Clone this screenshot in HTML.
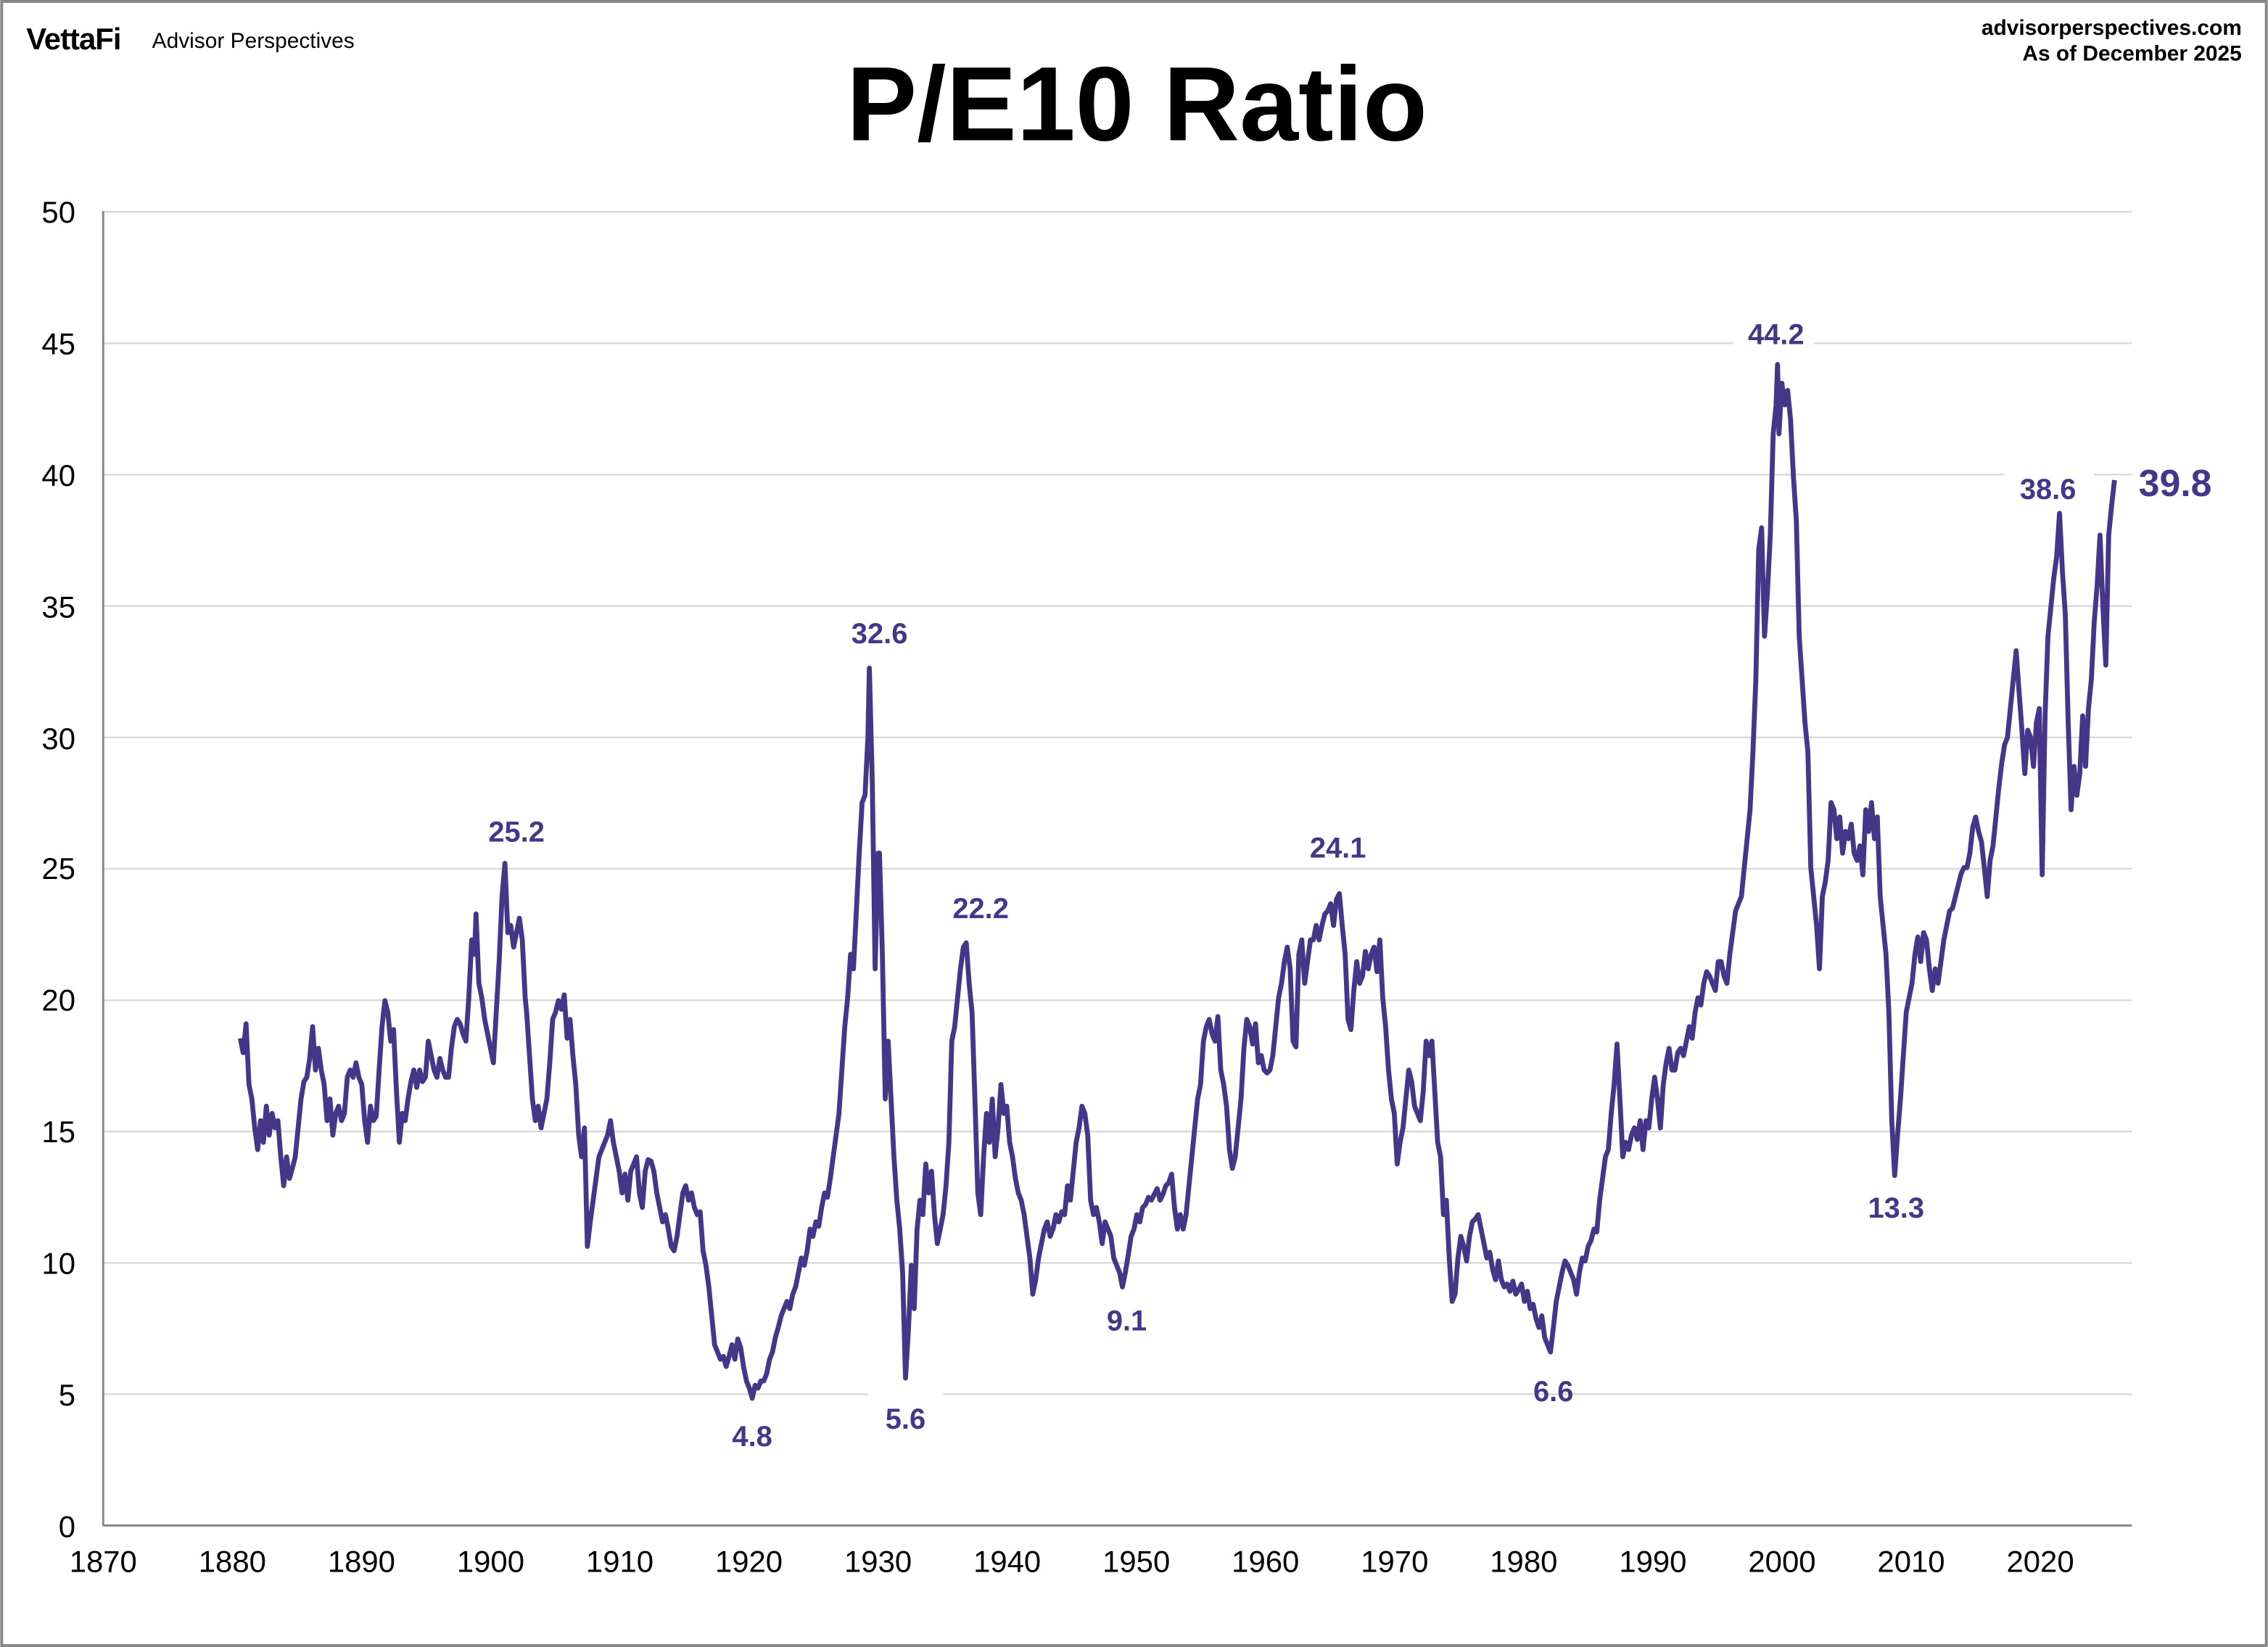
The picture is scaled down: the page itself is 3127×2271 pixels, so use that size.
<!DOCTYPE html>
<html><head><meta charset="utf-8"><style>
html,body{margin:0;padding:0;background:#fff;}
svg{display:block;}
</style></head><body>
<svg width="3127" height="2271" viewBox="0 0 1568 1139" xmlns="http://www.w3.org/2000/svg" font-family="Liberation Sans, Arial, sans-serif">
<rect x="0" y="0" width="1568" height="1139" fill="#fff"/>
<rect x="1" y="1" width="1566" height="1137" fill="none" stroke="#888" stroke-width="2"/>
<text x="18" y="34" font-size="21" font-weight="bold" fill="#000" letter-spacing="-0.5">VettaFi</text>
<text x="105" y="33" font-size="15" fill="#000">Advisor Perspectives</text>
<text x="1550" y="24" font-size="15" font-weight="bold" text-anchor="end" fill="#000">advisorperspectives.com</text>
<text x="1550" y="42" font-size="15" font-weight="bold" text-anchor="end" fill="#000">As of December 2025</text>
<text x="786" y="97" font-size="73" font-weight="bold" text-anchor="middle" fill="#000">P/E10 Ratio</text>
<g stroke="#d9d9d9" stroke-width="1.2">
<line x1="71" y1="146.5" x2="1474" y2="146.5"/><line x1="71" y1="237.4" x2="1474" y2="237.4"/>
<line x1="71" y1="328.2" x2="1474" y2="328.2"/><line x1="71" y1="419.1" x2="1474" y2="419.1"/>
<line x1="71" y1="510" x2="1474" y2="510"/><line x1="71" y1="600.8" x2="1474" y2="600.8"/>
<line x1="71" y1="691.7" x2="1474" y2="691.7"/><line x1="71" y1="782.5" x2="1474" y2="782.5"/>
<line x1="71" y1="873.4" x2="1474" y2="873.4"/><line x1="71" y1="964.2" x2="1474" y2="964.2"/>
</g>
<g stroke="#888" stroke-width="1.5"><line x1="71.2" y1="146" x2="71.2" y2="1055"/><line x1="71" y1="1055" x2="1474" y2="1055"/></g>
<g font-size="21" fill="#000" text-anchor="end">
<text x="52" y="154">50</text><text x="52" y="245">45</text><text x="52" y="336">40</text><text x="52" y="427">35</text>
<text x="52" y="518">30</text><text x="52" y="608">25</text><text x="52" y="699">20</text><text x="52" y="790">15</text>
<text x="52" y="881">10</text><text x="52" y="972">5</text><text x="52" y="1063">0</text>
</g>
<g font-size="21" fill="#000" text-anchor="middle">
<text x="71.2" y="1087">1870</text><text x="160.5" y="1087">1880</text><text x="249.8" y="1087">1890</text><text x="339.1" y="1087">1900</text>
<text x="428.4" y="1087">1910</text><text x="517.7" y="1087">1920</text><text x="607" y="1087">1930</text><text x="696.3" y="1087">1940</text>
<text x="785.6" y="1087">1950</text><text x="874.9" y="1087">1960</text><text x="964.2" y="1087">1970</text><text x="1053.5" y="1087">1980</text>
<text x="1142.8" y="1087">1990</text><text x="1232.1" y="1087">2000</text><text x="1321.4" y="1087">2010</text><text x="1410.7" y="1087">2020</text>
</g>
<polyline fill="none" stroke="#46368a" stroke-width="3.4" stroke-linejoin="round" points="166,718 168,728 170,708 172,750 174,760 176,780 178,795 180,775 182,790 184,765 186,785 188,770 190,780 192,775 194,800 196,820 198,800 200,815 202,808 204,800 206,780 208,760 210,748 212,745 214,732 216,710 218,740 220,725 222,740 224,750 226,775 228,760 230,785 232,770 234,765 236,775 238,770 240,745 242,740 244,745 246,735 248,745 250,750 252,775 254,790 256,765 258,775 260,772 262,740 264,710 266,692 268,700 270,720 272,712 274,755 276,790 278,770 280,775 282,760 284,748 286,740 288,752 290,740 292,748 294,745 296,720 298,730 300,740 302,745 304,732 306,740 308,745 310,745 312,725 314,710 316,705 318,708 320,715 322,720 324,690 326,650 328,660 329,632 331,680 333,690 335,705 337,715 339,725 341,735 343,700 345,665 347,620 349,597 351,645 353,640 355,655 357,645 359,635 361,650 363,690 364,700 366,730 368,760 370,775 372,765 374,780 376,770 378,760 380,735 382,705 384,700 386,692 388,698 390,688 392,718 394,705 396,730 398,750 400,785 402,800 404,780 406,862 408,845 410,830 412,815 414,800 416,795 418,790 420,785 422,775 424,790 426,800 428,810 430,825 432,812 434,830 436,810 438,805 440,800 442,825 444,835 446,810 448,802 450,803 452,810 454,825 456,835 458,845 460,840 462,850 464,862 466,865 468,855 470,840 472,825 474,820 476,830 478,825 480,835 482,840 484,838 486,865 488,875 490,890 492,910 494,930 496,935 498,940 500,938 502,945 504,938 506,930 508,940 510,926 512,932 514,945 516,955 518,960 520,967 522,958 524,960 526,955 528,955 530,950 532,940 534,935 536,925 538,918 540,910 542,905 544,900 546,905 548,895 550,890 552,880 554,870 556,875 558,865 560,850 562,855 564,845 566,848 568,835 570,825 572,828 574,815 576,800 578,785 580,770 582,740 584,710 586,690 588,660 590,670 592,630 594,590 596,555 598,550 600,510 601,462 603,540 605,670 607,590 608,590 610,660 612,760 614,720 616,760 618,800 620,830 622,850 624,880 626,953 628,920 630,875 632,905 634,850 636,830 638,840 640,805 642,825 644,810 646,840 648,860 650,850 652,840 654,820 656,790 658,720 660,710 662,690 664,670 666,655 668,652 670,680 672,700 674,760 676,825 678,840 680,800 682,770 684,790 686,760 688,800 690,780 692,750 694,770 696,765 698,790 700,800 702,815 704,825 706,830 708,840 710,855 712,870 714,895 716,885 718,870 720,860 722,850 724,845 726,855 728,850 730,840 732,845 734,838 736,840 738,820 740,830 742,810 744,790 746,780 748,765 750,770 752,785 754,830 756,840 758,835 760,845 762,860 764,845 766,850 768,855 770,870 772,875 774,880 776,890 778,880 780,868 782,855 784,850 786,840 788,845 790,835 792,833 794,828 796,830 798,826 800,822 802,830 804,826 806,820 808,818 810,812 812,835 814,850 816,840 818,850 820,840 822,820 824,800 826,780 828,760 830,750 832,720 834,710 836,705 838,715 840,720 842,703 844,740 846,750 848,765 850,795 852,808 854,800 856,780 858,760 860,725 862,705 864,710 866,722 868,708 870,735 872,730 874,740 876,742 878,740 880,730 882,710 884,690 886,680 888,665 890,655 892,670 894,720 896,724 898,660 900,650 902,680 904,665 906,650 908,650 910,640 912,650 914,640 916,632 918,630 920,625 922,640 924,622 926,618 928,640 930,660 932,705 934,712 936,685 938,665 940,680 942,675 944,658 946,670 948,660 950,655 952,672 954,650 956,690 958,710 960,740 962,760 964,770 966,805 968,790 970,780 972,760 974,740 976,748 978,765 980,770 982,775 984,755 986,720 988,730 990,720 992,755 994,790 996,800 998,840 1000,830 1002,870 1004,900 1006,895 1008,870 1010,855 1012,862 1014,872 1016,855 1018,845 1020,843 1022,840 1024,850 1026,860 1028,870 1030,866 1032,878 1034,885 1036,872 1038,885 1040,890 1042,888 1044,893 1046,886 1048,895 1050,892 1052,888 1054,900 1056,893 1058,905 1060,902 1062,912 1064,918 1066,910 1068,925 1070,930 1072,935 1074,918 1076,900 1078,890 1080,880 1082,872 1084,875 1086,880 1088,885 1090,895 1092,880 1094,870 1096,872 1098,862 1100,858 1102,850 1104,852 1106,830 1108,815 1110,800 1112,795 1114,770 1116,750 1118,722 1120,760 1122,800 1124,790 1126,795 1128,785 1130,780 1132,788 1134,775 1136,795 1138,775 1140,780 1142,760 1144,745 1146,760 1148,780 1150,750 1152,735 1154,725 1156,740 1158,740 1160,728 1162,725 1164,730 1166,720 1168,710 1170,718 1172,700 1174,690 1176,695 1178,680 1180,672 1182,675 1184,680 1186,685 1188,665 1190,665 1192,675 1194,680 1196,660 1198,645 1200,630 1202,625 1204,620 1206,600 1208,580 1210,560 1212,520 1214,470 1216,380 1218,365 1220,440 1222,410 1224,370 1226,300 1228,280 1229,252 1230,300 1232,265 1234,280 1236,270 1238,290 1240,330 1242,360 1244,440 1246,470 1248,500 1250,520 1252,600 1254,620 1256,640 1258,670 1260,620 1262,610 1264,595 1266,555 1268,560 1270,580 1272,565 1274,590 1276,575 1278,580 1280,570 1282,590 1284,595 1286,585 1288,605 1290,560 1292,575 1294,555 1296,580 1298,565 1300,620 1302,640 1304,660 1306,700 1308,775 1310,813 1312,785 1314,760 1316,730 1318,700 1320,690 1322,680 1324,660 1326,648 1328,665 1330,645 1332,650 1334,670 1336,685 1338,670 1340,680 1342,665 1344,650 1346,640 1348,630 1350,628 1352,620 1354,612 1356,604 1358,600 1360,600 1362,590 1364,572 1366,565 1368,575 1370,582 1372,600 1374,620 1376,595 1378,585 1380,565 1382,545 1384,528 1386,515 1388,510 1390,490 1392,470 1394,450 1396,478 1398,505 1400,535 1402,505 1404,510 1406,530 1408,500 1410,490 1412,605 1414,495 1416,440 1418,420 1420,400 1422,385 1424,355 1426,395 1428,425 1430,500 1432,560 1434,530 1436,550 1438,535 1440,495 1442,530 1444,490 1446,470 1448,430 1450,405 1452,370 1454,420 1456,460 1458,370 1460,350 1462,332"/>
<g font-size="20" font-weight="bold" fill="#46368a" text-anchor="middle">
<rect x="600" y="955" width="52" height="30" fill="#fff"/>
<rect x="1198" y="221" width="56" height="20" fill="#fff"/>
<rect x="1386" y="320" width="62" height="24" fill="#fff"/>
<text x="357" y="582">25.2</text><text x="608" y="445">32.6</text><text x="678" y="635">22.2</text>
<text x="520" y="1000">4.8</text><text x="626" y="988">5.6</text><text x="779" y="920">9.1</text>
<text x="925" y="593">24.1</text><text x="1074" y="969">6.6</text><text x="1228" y="238">44.2</text>
<text x="1311" y="842">13.3</text><text x="1416" y="345">38.6</text>
<text x="1504" y="343" font-size="26">39.8</text>
</g>
</svg>
</body></html>
